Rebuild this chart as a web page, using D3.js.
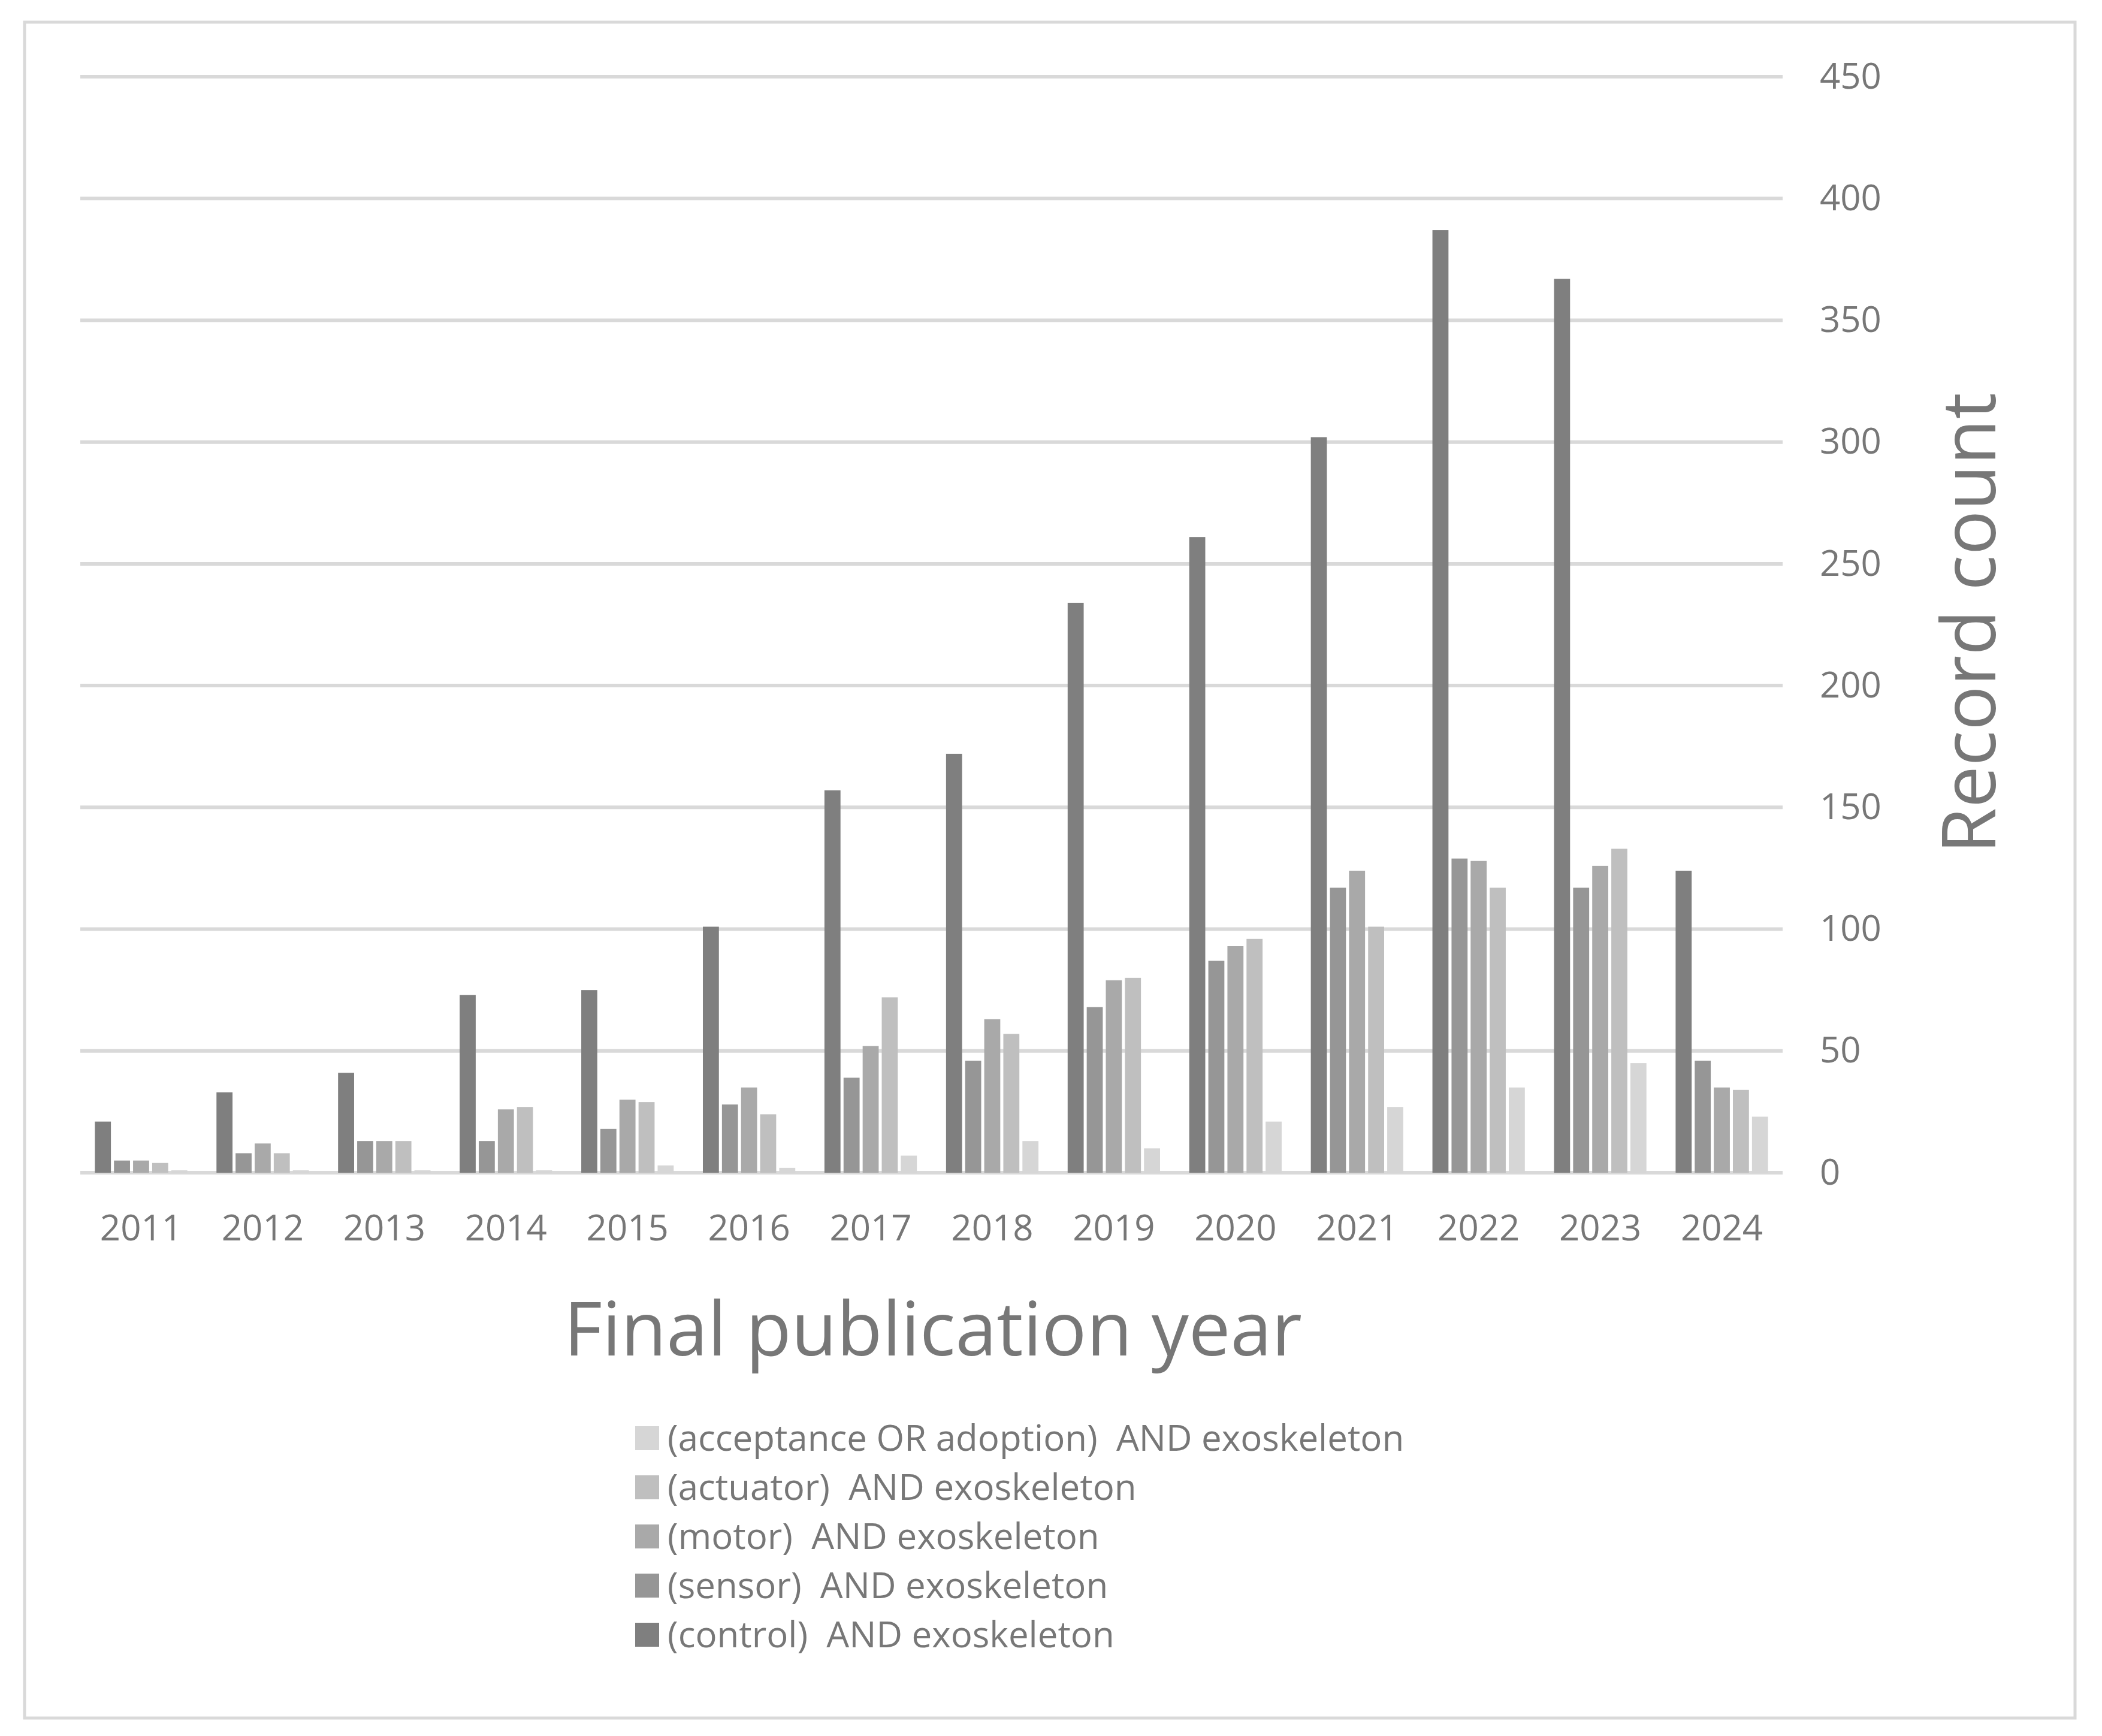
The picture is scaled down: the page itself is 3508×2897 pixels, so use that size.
<!DOCTYPE html>
<html><head><meta charset="utf-8">
<script src="https://cdn.jsdelivr.net/npm/d3@7"></script>
<style>body{margin:0;background:#fff}text{font-family:"Open Sans",sans-serif;white-space:pre}</style>
</head><body><svg id="chart"></svg>
<script>
"use strict";
var years = ["2011","2012","2013","2014","2015","2016","2017","2018","2019","2020","2021","2022","2023","2024"];
var seriesNames = ["(control)  AND exoskeleton","(sensor)  AND exoskeleton","(motor)  AND exoskeleton","(actuator)  AND exoskeleton","(acceptance OR adoption)  AND exoskeleton"];
var control = [21,33,41,73,75,101,157,172,234,261,302,387,367,124];
var sensor = [5,8,13,13,18,28,39,46,68,87,117,129,117,46];
var motor = [5,12,13,26,30,35,52,63,79,93,124,128,126,35];
var actuator = [4,8,13,27,29,24,72,57,80,96,101,117,133,34];
var acceptance = [1,1,1,1,3,2,7,13,10,21,27,35,45,23];
var yTicks = [0,50,100,150,200,250,300,350,400,450];
var colors = ["#7f7f7f","#969696","#a9a9a9","#bfbfbf","#d6d6d6"];

var series = [control, sensor, motor, actuator, acceptance];
var W = 3508, H = 2897;
var margin = { top: 128, right: 533, bottom: 940, left: 134 };
var gw = W - margin.left - margin.right, gh = H - margin.top - margin.bottom;
var txt = "#777777";
var font = "'Open Sans',sans-serif";

var svg = d3.select("#chart").attr("width", W).attr("height", H);
svg.append("rect").attr("x", 41).attr("y", 37).attr("width", 3422).attr("height", 2830)
  .attr("fill", "#fff").attr("stroke", "#d9d9d9").attr("stroke-width", 5);

var g = svg.append("g").attr("transform", "translate(" + margin.left + "," + margin.top + ")");

var x = d3.scaleBand().domain(years).range([0, gw]).paddingInner(0.24).paddingOuter(0.12);
var xi = d3.scaleBand().domain(d3.range(5)).range([0, x.bandwidth()]).paddingInner(0.16);
var y = d3.scaleLinear().domain([0, 450]).range([gh, 0]);

// grid
g.selectAll(".grid").data(yTicks).enter().append("line")
  .attr("x1", 0).attr("x2", gw).attr("y1", function (d) { return y(d); }).attr("y2", function (d) { return y(d); })
  .attr("stroke", "#d9d9d9").attr("stroke-width", 6);

// bars
series.forEach(function (s, si) {
  g.selectAll(".bar" + si).data(s).enter().append("rect")
    .attr("fill", colors[si])
    .attr("x", function (d, i) { return x(years[i]) + xi(si); })
    .attr("width", xi.bandwidth())
    .attr("y", function (d) { return y(d); })
    .attr("height", function (d) { return gh - y(d); });
});

// y axis on right
var ya = g.append("g").attr("transform", "translate(" + (gw + 40) + ",0)")
  .call(d3.axisRight(y).tickValues(yTicks).tickSize(0).tickPadding(22));
ya.select(".domain").remove();
ya.selectAll("text").attr("fill", txt).attr("font-size", 60).attr("font-family", font);

// x axis
var xa = g.append("g").attr("transform", "translate(0," + gh + ")")
  .call(d3.axisBottom(x).tickSize(0).tickPadding(70));
xa.select(".domain").remove();
xa.selectAll("text").attr("fill", txt).attr("font-size", 60).attr("font-family", font);

// titles
svg.append("text").attr("x", 1557).attr("y", 2262).attr("text-anchor", "middle")
  .attr("font-size", 124).attr("fill", txt).text("Final publication year");
svg.append("text").attr("transform", "translate(3330,1040) rotate(-90)").attr("text-anchor", "middle")
  .attr("font-size", 124).attr("fill", txt).text("Record count");

// legend (reverse order)
var legendOrder = [4, 3, 2, 1, 0];
var lg = svg.append("g").attr("transform", "translate(1060,2400)");
legendOrder.forEach(function (si, k) {
  var row = lg.append("g").attr("transform", "translate(0," + (k * 82) + ")");
  row.append("rect").attr("x", 0).attr("y", -20).attr("width", 40).attr("height", 40).attr("fill", colors[si]);
  row.append("text").attr("x", 54).attr("y", 21).attr("font-size", 60).attr("fill", txt)
    .attr("xml:space", "preserve").text(seriesNames[si]);
});
</script></body></html>
